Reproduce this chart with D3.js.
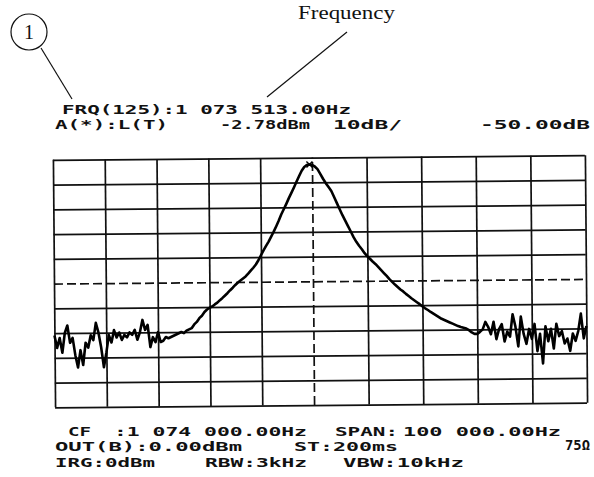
<!DOCTYPE html>
<html>
<head>
<meta charset="utf-8">
<script src="https://cdn.jsdelivr.net/npm/d3@7"></script>
<style>
  body { margin: 0; background: #fff; }
  svg { display: block; }
  .scr { font-family: "DejaVu Sans Mono", monospace; font-weight: bold; fill: #111; }
  .note { font-family: "Liberation Serif", "Times New Roman", serif; fill: #111; }
</style>
</head>
<body>
<svg id="chart" width="594" height="477"></svg>
<script>
// sweep points: offset from centre frequency (kHz) and trace level (dBm)
var centreHz = 1074000;
var traceKHz = [
  -50, -49.5, -49, -48.5, -48, -47.5, -47, -46.5, -46, -45.5,
  -45, -44.5, -44, -43.5, -43, -42.5, -42, -41.5, -41, -40.5,
  -40, -39.5, -39, -38.5, -38, -37.5, -37, -36.5, -36, -35.5,
  -35, -34.5, -34, -33.5, -33, -32.5, -32, -31.5, -31, -30.5,
  -30, -29.5, -29, -28.5, -28, -27.5, -27, -26.5, -26, -25.5,
  -25, -24.5, -24, -23.5, -23, -22.5, -22, -21.5, -21, -20.5,
  -20, -19.5, -19, -18.5, -18, -17.5, -17, -16.5, -16, -15.5,
  -15, -14.5, -14, -13.5, -13, -12.5, -12, -11.5, -11, -10.5,
  -10, -9.5, -9, -8.5, -8, -7.5, -7, -6.5, -6, -5.5,
  -5, -4.5, -4, -3.5, -3, -2.5, -2, -1.5, -1, -0.5,
  0, 0.5, 1, 1.5, 2, 2.5, 3, 3.5, 4, 4.5,
  5, 5.5, 6, 6.5, 7, 7.5, 8, 8.5, 9, 9.5,
  10, 10.5, 11, 11.5, 12, 12.5, 13, 13.5, 14, 14.5,
  15, 15.5, 16, 16.5, 17, 17.5, 18, 18.5, 19, 19.5,
  20, 20.5, 21, 21.5, 22, 22.5, 23, 23.5, 24, 24.5,
  25, 25.5, 26, 26.5, 27, 27.5, 28, 28.5, 29, 29.5,
  30, 30.5, 31, 31.5, 32, 32.5, 33, 33.5, 34, 34.5,
  35, 35.5, 36, 36.5, 37, 37.5, 38, 38.5, 39, 39.5,
  40, 40.5, 41, 41.5, 42, 42.5, 43, 43.5, 44, 44.5,
  45, 45.5, 46, 46.5, 47, 47.5, 48, 48.5, 49, 49.5,
  50
];
var traceDbm = [
  -71, -76, -72, -78, -70, -67, -74, -72, -79, -84,
  -77, -83, -74, -76, -71, -73, -66, -70, -76, -84,
  -78, -71, -74, -69, -72, -70, -73, -71, -72, -70,
  -71, -69, -73, -70, -65, -69, -67, -76, -72, -74,
  -70, -74, -73.5, -72, -72.5, -72, -71.5, -71, -70.5, -70,
  -70.5, -69.5, -69, -68.5, -67, -66, -64.5, -63.5, -62, -61,
  -60.3, -59.8, -59, -58.3, -57.3, -56.4, -55.4, -54.4, -53.3, -52.3,
  -51.2, -50.2, -49.4, -48.6, -47.8, -46.7, -45.5, -44.3, -43, -41.3,
  -39.3, -37.3, -35.5, -33.8, -31.8, -29.8, -27.6, -25.3, -22.8, -20.7,
  -18.5, -16.2, -14.1, -11.9, -9.6, -7.4, -5.3, -3.8, -3.0, -2.78,
  -3.0, -3.6, -4.7, -6.6, -8.6, -10.4, -12, -13.6, -16, -18.5,
  -21, -23.4, -25.6, -27.8, -30, -32.3, -34.2, -35.8, -37.2, -38.8,
  -40.1, -41.2, -42.3, -43.3, -44.5, -45.7, -46.9, -48.1, -49.4, -50.5,
  -51.6, -52.6, -53.6, -54.4, -55.4, -56.3, -57.2, -58, -58.8, -59.6,
  -60.5, -61.3, -62, -62.8, -63.5, -64.2, -64.9, -65.6, -66.1, -66.6,
  -67.1, -67.6, -68.1, -68.6, -69, -69.3, -69.6, -70.3, -71.2, -71.8,
  -71.8, -71, -70, -67, -69, -72, -67, -74, -70, -68,
  -75, -71, -73, -64, -69, -77, -65, -72, -76, -70,
  -74, -68, -79, -72, -84, -69, -75, -70, -78, -68,
  -73, -71, -76, -74, -79, -72, -75, -71, -64, -74,
  -69
];
var markerKHz = -0.487;   // FRQ(125) 1 073 513.00 Hz
var markerDbm = -2.78;
var displayLineDb = -50;

// grid divisions
var freqTicks = [-50, -40, -30, -20, -10, 0, 10, 20, 30, 40, 50];
var levelTicks = [-100, -90, -80, -70, -60, -50, -40, -30, -20, -10, 0];

// screen readouts
var headerText = ["FRQ(125):1 073 513.00Hz", "A(*):L(T)", "-2.78dBm", "10dB/", "-50.00dB"];
var footerText = ["CF", ":1 074 000.00Hz", "SPAN:", "100 000.00Hz",
                  "OUT(B):0.00dBm", "ST:200ms", "75\u03a9",
                  "IRG:0dBm", "RBW:3kHz", "VBW:10kHz"];
var noteText = ["1", "Frequency"];

var svg = d3.select("#chart");

// scan of the screen is a bit skewed, so the centre sits left of middle
var xScale = d3.scaleLinear().domain([-50, 0, 50]).range([54, 313, 586]);
var yScale = d3.scaleLinear().domain([-100, 0]).range([405, 157.5]);

var plot = svg.append("g")
  .attr("transform", "rotate(-0.5, 320, 282)");

// horizontal grid
var yGrid = plot.append("g")
  .attr("transform", "translate(" + xScale(-50) + ",0)")
  .call(d3.axisLeft(yScale).tickValues(levelTicks)
    .tickSize(-(xScale(50) - xScale(-50))).tickFormat(""));
yGrid.select(".domain").remove();
yGrid.selectAll(".tick line")
  .attr("stroke", "#111")
  .attr("stroke-width", 1.7)
  .attr("stroke-dasharray", function (d) { return d === displayLineDb ? "9,4" : null; });

// vertical grid
var xGrid = plot.append("g")
  .attr("transform", "translate(0," + yScale(-100) + ")")
  .call(d3.axisBottom(xScale).tickValues(freqTicks)
    .tickSize(-(yScale(-100) - yScale(0))).tickFormat(""));
xGrid.select(".domain").remove();
xGrid.selectAll(".tick line")
  .attr("stroke", "#111")
  .attr("stroke-width", 1.7)
  .attr("stroke-dasharray", function (d) { return d === 0 ? "9,4" : null; });

// trace
var trace = traceKHz.map(function (f, i) { return { f: f, v: traceDbm[i] }; });
var line = d3.line()
  .x(function (d) { return xScale(d.f); })
  .y(function (d) { return yScale(d.v); });

plot.append("path")
  .datum(trace)
  .attr("d", line)
  .attr("fill", "none")
  .attr("stroke", "#000")
  .attr("stroke-width", 2.6)
  .attr("stroke-linejoin", "round");

// peak marker
var mx = xScale(markerKHz), my = yScale(markerDbm);
plot.append("path")
  .attr("d", "M" + (mx - 3) + "," + (my - 3) + "L" + (mx + 3) + "," + (my + 3) +
             "M" + (mx + 3) + "," + (my - 3) + "L" + (mx - 3) + "," + (my + 3))
  .attr("stroke", "#000")
  .attr("stroke-width", 1.4);

// readouts
function screenText(str, x, y, w, size) {
  var t = svg.append("text")
    .attr("class", "scr")
    .attr("x", x).attr("y", y)
    .attr("font-size", size || 12.5)
    .text(str);
  if (w) t.attr("textLength", w).attr("lengthAdjust", "spacingAndGlyphs");
}
screenText(headerText[0], 62, 114, 289);
screenText(headerText[1], 55, 129, 113);
screenText(headerText[2], 220, 129, 90);
screenText(headerText[3], 333, 129, 69);
screenText(headerText[4], 480, 129, 110);

screenText(footerText[0], 68, 436, 23);
screenText(footerText[1], 114, 436, 193);
screenText(footerText[2], 335, 436, 63);
screenText(footerText[3], 403, 436, 158);
screenText(footerText[4], 55, 451, 187);
screenText(footerText[5], 294, 451, 104);
screenText(footerText[6], 565, 450, 25, 14);
screenText(footerText[7], 55, 467, 100);
screenText(footerText[8], 205, 467, 102);
screenText(footerText[9], 343, 467, 121);

// callouts
svg.append("circle")
  .attr("cx", 29).attr("cy", 32).attr("r", 18)
  .attr("fill", "none").attr("stroke", "#111").attr("stroke-width", 1.2);
svg.append("text")
  .attr("class", "note")
  .attr("x", 29).attr("y", 39)
  .attr("text-anchor", "middle")
  .attr("font-size", 20)
  .text(noteText[0]);
svg.append("line")
  .attr("x1", 41).attr("y1", 48).attr("x2", 72).attr("y2", 99)
  .attr("stroke", "#111").attr("stroke-width", 1.2);

svg.append("text")
  .attr("class", "note")
  .attr("x", 298).attr("y", 19)
  .attr("font-size", 19)
  .attr("textLength", 97)
  .attr("lengthAdjust", "spacingAndGlyphs")
  .text(noteText[1]);
svg.append("line")
  .attr("x1", 347).attr("y1", 32).attr("x2", 267).attr("y2", 97)
  .attr("stroke", "#111").attr("stroke-width", 1.2);
</script>
</body>
</html>
